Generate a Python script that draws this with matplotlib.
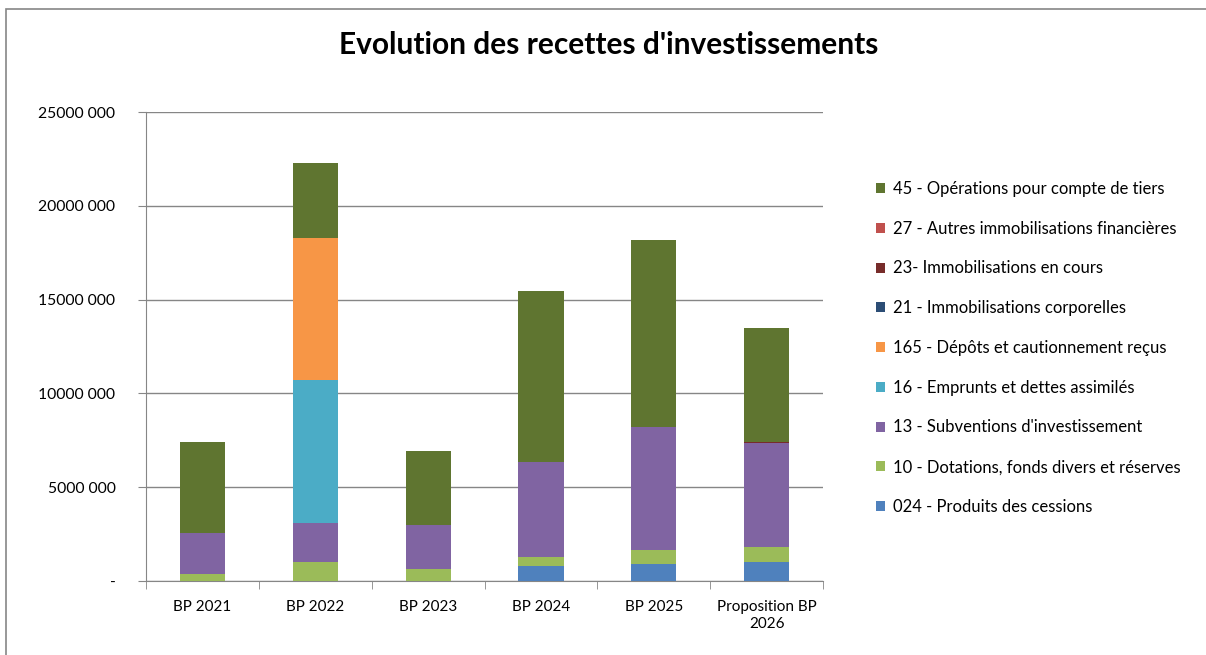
import numpy as np
import matplotlib.pyplot as plt
from matplotlib.patches import Rectangle
from matplotlib.ticker import FuncFormatter

plt.rcParams['font.family'] = ['Lato', 'DejaVu Sans']

# Categories and series values (euros)
categories = ["BP 2021", "BP 2022", "BP 2023", "BP 2024", "BP 2025", "Proposition BP\n2026"]

cessions_024 = [0, 0, 0, 800000, 910000, 1000000]
dotations_10 = [390000, 1030000, 660000, 480000, 740000, 830000]
subventions_13 = [2150000, 2080000, 2310000, 5080000, 6540000, 5540000]
emprunts_16 = [0, 7600000, 0, 0, 0, 0]
depots_165 = [0, 7560000, 0, 0, 0, 0]
corporelles_21 = [0, 0, 0, 0, 0, 0]
en_cours_23 = [0, 0, 0, 0, 0, 50000]
financieres_27 = [0, 0, 0, 0, 30000, 0]
tiers_45 = [4890000, 4030000, 3960000, 9100000, 9980000, 6070000]

# Stacking order, bottom to top
series = [
    ("024 - Produits des cessions", cessions_024, "#4F81BD"),
    ("10 - Dotations, fonds divers et réserves", dotations_10, "#9BBB59"),
    ("13 - Subventions d'investissement", subventions_13, "#8064A2"),
    ("16 - Emprunts et dettes assimilés", emprunts_16, "#4BACC6"),
    ("165 - Dépôts et cautionnement reçus", depots_165, "#F79646"),
    ("21 - Immobilisations corporelles", corporelles_21, "#2C4D75"),
    ("23- Immobilisations en cours", en_cours_23, "#772C2A"),
    ("27 - Autres immobilisations financières", financieres_27, "#C0504D"),
    ("45 - Opérations pour compte de tiers", tiers_45, "#5F7530"),
]

fig = plt.figure(figsize=(12.06, 6.55), dpi=100)
ax = fig.add_axes([0.1211, 0.113, 0.5614, 0.716])

# Outer chart frame
fig.patches.append(Rectangle((6 / 1206, -0.05), 1.1, 1 - 9 / 655 + 0.05,
                             transform=fig.transFigure, fill=False,
                             edgecolor="#868686", linewidth=1.2))

x = np.arange(len(categories))
bottom = np.zeros(len(categories))
handles = []
for label, values, color in series:
    bars = ax.bar(x, values, width=0.4, bottom=bottom, color=color, label=label,
                  edgecolor="none", zorder=3)
    handles.append(bars)
    bottom += np.array(values)

# Axes styling
ax.set_xlim(-0.5, len(categories) - 0.5)
ax.set_ylim(0, 25000000)
ax.set_yticks(np.arange(0, 25000001, 5000000))
ax.yaxis.set_major_formatter(FuncFormatter(
    lambda v, p: "-" if v == 0 else f"{int(v // 1000)} 000"))
ax.grid(axis="y", color="#868686", linewidth=1, zorder=0)
ax.set_axisbelow(True)
for side in ["top", "right"]:
    ax.spines[side].set_visible(False)
for side in ["left", "bottom"]:
    ax.spines[side].set_color("#868686")
ax.set_xticks(x)
ax.set_xticklabels(categories)
ax.set_xticks(np.arange(-0.5, len(categories)), minor=True)
ax.tick_params(axis="x", which="major", length=0, pad=14, labelsize=11)
ax.tick_params(axis="x", which="minor", length=6, color="#868686")
ax.tick_params(axis="y", length=6, color="#868686", labelsize=11.3, pad=16)

fig.suptitle("Evolution des recettes d'investissements", x=0.505, y=1 - 31 / 655,
             fontsize=21.5, fontweight="bold")

# Legend (reverse order like the original)
leg = fig.legend(handles[::-1], [s[0] for s in series][::-1],
                 loc="upper left", bbox_to_anchor=(861 / 1206, 1 - 166 / 655),
                 frameon=False, fontsize=12, labelspacing=1.425,
                 handlelength=0.55, handleheight=0.55, handletextpad=0.45)

fig.savefig("out.png", dpi=100)
